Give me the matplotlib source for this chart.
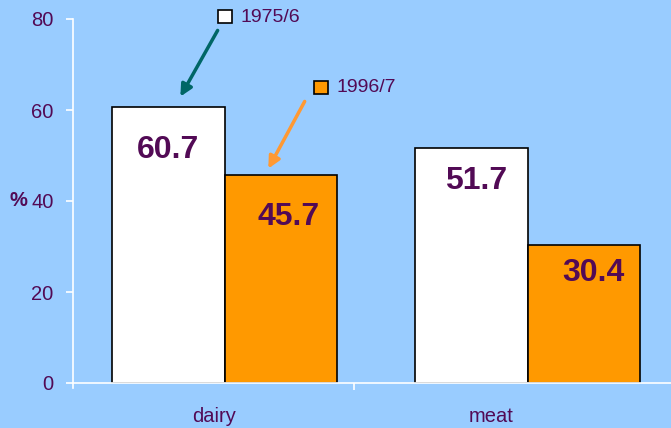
import matplotlib
matplotlib.use("Agg")
import matplotlib.pyplot as plt
import numpy as np
from matplotlib.patches import Rectangle

categories = ["dairy", "meat"]
series_names = ["1975/6", "1996/7"]
values_1975 = [60.7, 51.7]
values_1996 = [45.7, 30.4]
y_ticks = [0, 20, 40, 60, 80]

BG = "#99CCFF"
TXT = "#520A55"
plt.rcParams['font.family'] = ['Liberation Sans', 'DejaVu Sans']

fig = plt.figure(figsize=(6.71, 4.28), dpi=100, facecolor=BG)
ax = fig.add_axes([73/671, 1-383/428, 606/671, (383-19)/428])
ax.set_facecolor(BG)

x = np.arange(len(categories))
w = 0.37
ax.bar(x - w/2, values_1975, w, color="white", edgecolor="black", linewidth=1.2, zorder=3)
ax.bar(x + w/2, values_1996, w, color="#FF9900", edgecolor="black", linewidth=1.2, zorder=3)

ax.set_xlim(-0.5, 1.5)
ax.set_ylim(0, 80)
ax.set_yticks(y_ticks)
ax.set_yticklabels([str(t) for t in y_ticks])

for s in ["top", "right"]:
    ax.spines[s].set_visible(False)
ax.spines["left"].set_color("white")
ax.spines["bottom"].set_color("white")
ax.spines["left"].set_linewidth(1.2)
ax.spines["bottom"].set_linewidth(1.2)
ax.spines["bottom"].set_zorder(4)
ax.spines["left"].set_bounds(-1.2, 80)
ax.spines["left"].set_clip_on(False)

ax.tick_params(axis="y", colors="white", length=5, width=1.2, direction="out", pad=9,
               labelcolor=TXT, labelsize=14.5)
ax.set_xticks([-0.035, 0.88])
ax.set_xticklabels(categories)
ax.tick_params(axis="x", which="major", length=0, pad=17.5, labelcolor=TXT, labelsize=14.5)
ax.set_xticks([0.428], minor=True)
ax.tick_params(axis="x", which="minor", colors="white", length=5, width=1.2, direction="out")

ax.text(-0.105, 0.5, "%", transform=ax.transAxes, ha="left", va="center",
        fontsize=14.5, fontweight="bold", color=TXT)

offs_1975 = [9.5, 7.4]
offs_1996 = [9.2, 6.2]
dx_1975 = [0.0, 0.015]
dx_1996 = [0.027, 0.033]
for i in range(len(categories)):
    ax.text(x[i] - w/2 + dx_1975[i], values_1975[i] - offs_1975[i], f"{values_1975[i]:.1f}",
            ha="center", va="center", fontsize=23, fontweight="bold", color=TXT, zorder=5)
    ax.text(x[i] + w/2 + dx_1996[i], values_1996[i] - offs_1996[i], f"{values_1996[i]:.1f}",
            ha="center", va="center", fontsize=23, fontweight="bold", color=TXT, zorder=5)

def fx(px):
    return px / 671
def fy(py):
    return 1 - py / 428

fig.patches.append(Rectangle((fx(218), fy(23)), 14/671, 13/428, transform=fig.transFigure,
                             facecolor="white", edgecolor="black", linewidth=1.2))
fig.text(fx(240), fy(17), series_names[0], ha="left", va="center", fontsize=14, color=TXT)
fig.patches.append(Rectangle((fx(314), fy(94)), 14/671, 13/428, transform=fig.transFigure,
                             facecolor="#FF9900", edgecolor="black", linewidth=1.2))
fig.text(fx(336), fy(88), series_names[1], ha="left", va="center", fontsize=14, color=TXT)

ax.annotate("", xy=(fx(179), fy(99)), xycoords="figure fraction",
            xytext=(fx(219), fy(28)), textcoords="figure fraction",
            arrowprops=dict(arrowstyle="-|>,head_length=0.7,head_width=0.35", color="#006666", lw=2.5))
ax.annotate("", xy=(fx(267), fy(171)), xycoords="figure fraction",
            xytext=(fx(306), fy(99)), textcoords="figure fraction",
            arrowprops=dict(arrowstyle="-|>,head_length=0.7,head_width=0.35", color="#FF9933", lw=2.5))

fig.savefig("out.png", dpi=100, facecolor=BG)
